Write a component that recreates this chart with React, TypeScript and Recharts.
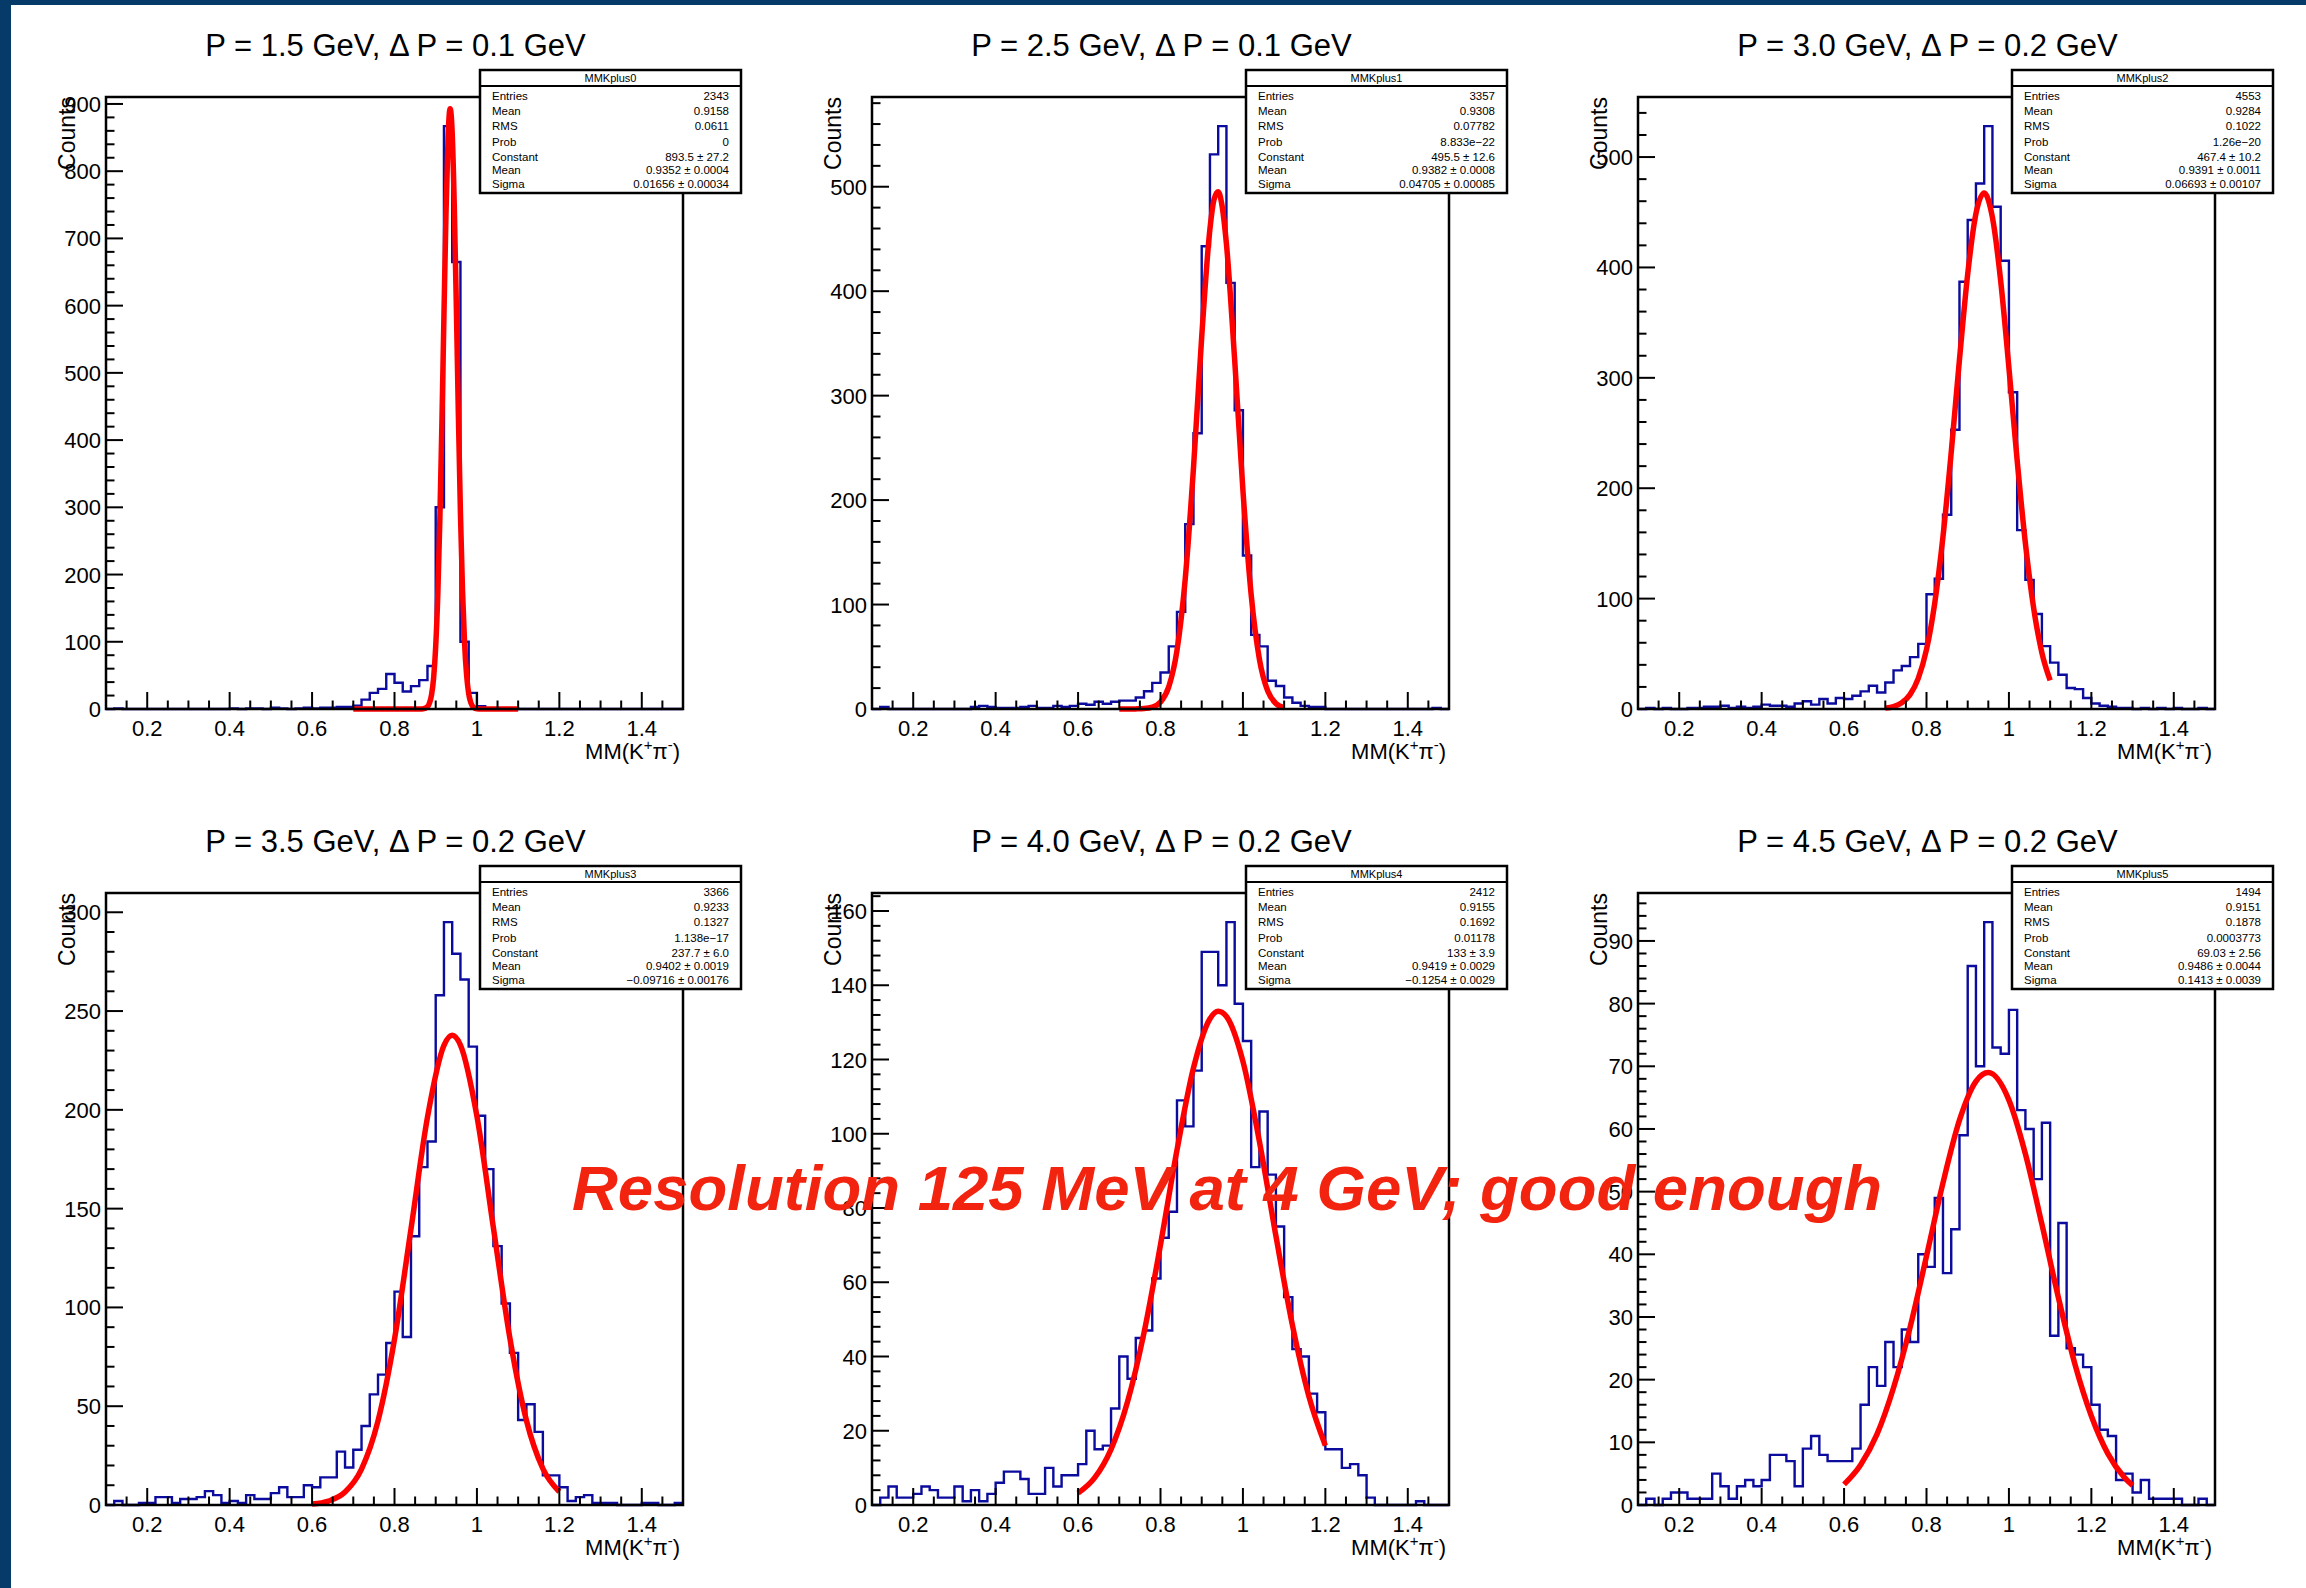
import React from "react";
import { LineChart, Line, XAxis, YAxis } from "recharts";

// ── Data ─────────────────────────────────────────────────────────────────────

// histogram binning: 70 bins of 0.02 from 0.10 to 1.50
const binStart = 0.1;
const binWidth = 0.02;

const titles = [
  "P = 1.5 GeV, \u0394 P = 0.1 GeV",
  "P = 2.5 GeV, \u0394 P = 0.1 GeV",
  "P = 3.0 GeV, \u0394 P = 0.2 GeV",
  "P = 3.5 GeV, \u0394 P = 0.2 GeV",
  "P = 4.0 GeV, \u0394 P = 0.2 GeV",
  "P = 4.5 GeV, \u0394 P = 0.2 GeV",
];

const histNames = ["MMKplus0", "MMKplus1", "MMKplus2", "MMKplus3", "MMKplus4", "MMKplus5"];

const counts0 = [
  0, 1, 0, 0, 0, 0, 0, 0, 0, 0,
  0, 0, 0, 0, 0, 1, 0, 1, 1, 0,
  2, 1, 0, 1, 2, 1, 2, 2, 3, 3,
  5, 14, 24, 30, 52, 39, 26, 34, 43, 64,
  300, 867, 665, 100, 24, 4, 1, 0, 0, 1,
  0, 0, 0, 0, 0, 0, 0, 0, 0, 0,
  0, 0, 0, 0, 0, 0, 0, 0, 0, 0,
];
const counts1 = [
  0, 2, 0, 0, 0, 0, 0, 0, 0, 0,
  0, 0, 2, 3, 2, 1, 1, 1, 2, 3,
  1, 1, 3, 2, 3, 5, 4, 7, 5, 7,
  8, 8, 11, 17, 25, 35, 60, 93, 177, 264,
  443, 531, 558, 408, 286, 147, 71, 60, 27, 22,
  11, 6, 3, 2, 2, 0, 0, 0, 0, 0,
  0, 0, 0, 0, 0, 0, 0, 0, 1, 0,
];
const counts2 = [
  0, 1, 0, 1, 0, 0, 1, 1, 2, 2,
  3, 1, 2, 1, 2, 4, 3, 3, 2, 5,
  7, 4, 9, 5, 10, 9, 12, 16, 21, 15,
  24, 35, 39, 47, 59, 104, 118, 176, 253, 387,
  443, 476, 528, 455, 406, 287, 162, 117, 86, 57,
  42, 31, 19, 18, 10, 5, 3, 2, 1, 1,
  0, 1, 0, 1, 0, 1, 0, 0, 1, 0,
];
const counts3 = [
  0, 2, 0, 0, 1, 1, 4, 4, 1, 3,
  3, 4, 7, 5, 1, 2, 1, 5, 3, 3,
  6, 9, 4, 4, 10, 9, 14, 14, 27, 19,
  28, 40, 56, 66, 82, 108, 85, 136, 171, 184,
  258, 295, 279, 266, 232, 197, 170, 131, 102, 77,
  43, 51, 37, 15, 15, 9, 2, 4, 5, 1,
  1, 1, 0, 0, 0, 1, 1, 0, 0, 1,
];
const counts4 = [
  0, 2, 5, 2, 2, 3, 5, 4, 2, 2,
  5, 1, 4, 1, 3, 6, 9, 9, 7, 3,
  3, 10, 5, 8, 8, 11, 20, 15, 16, 26,
  40, 34, 45, 47, 61, 72, 79, 109, 102, 117,
  149, 149, 140, 157, 135, 125, 91, 106, 89, 75,
  56, 42, 40, 30, 25, 15, 15, 10, 11, 8,
  2, 0, 0, 0, 0, 0, 1, 0, 0, 0,
];
const counts5 = [
  0, 1, 0, 1, 2, 2, 1, 1, 1, 5,
  3, 1, 3, 4, 3, 4, 8, 8, 7, 3,
  9, 11, 8, 7, 7, 7, 9, 16, 22, 19,
  26, 22, 28, 26, 40, 38, 49, 37, 44, 59,
  86, 70, 93, 73, 72, 79, 63, 60, 52, 61,
  27, 45, 25, 24, 22, 16, 12, 11, 4, 5,
  2, 4, 1, 1, 1, 1, 0, 0, 1, 0,
];

// gaussian fit curves
const fit0X = [0.7, 0.8, 0.86, 0.87, 0.88, 0.885, 0.89, 0.895, 0.9, 0.905, 0.91, 0.915, 0.92, 0.925, 0.93, 0.935, 0.94, 0.945, 0.95, 0.955, 0.96, 0.965, 0.97, 0.975, 0.98, 0.985, 0.99, 1.0, 1.01, 1.1];
const fit0Y = [0, 0, 0.1, 0.4, 3.4, 9, 21.5, 46.9, 93.4, 169, 281, 425, 586, 739, 851, 893, 857, 750, 600, 437, 291, 177, 98, 50, 23, 9.7, 3.7, 0.4, 0, 0];
const fit1X = [0.7, 0.72, 0.74, 0.76, 0.78, 0.8, 0.82, 0.84, 0.86, 0.88, 0.9, 0.92, 0.93, 0.94, 0.95, 0.96, 0.98, 1.0, 1.02, 1.04, 1.06, 1.08, 1.1];
const fit1Y = [0, 0, 0.1, 0.4, 1.7, 6.6, 21.1, 56.1, 124.5, 230.6, 356.4, 459.8, 488, 495.1, 480.1, 445.1, 334, 209.3, 109.4, 47.7, 17.4, 5.3, 1.3];
const fit2X = [0.7, 0.72, 0.74, 0.76, 0.78, 0.8, 0.82, 0.84, 0.86, 0.88, 0.9, 0.92, 0.94, 0.96, 0.98, 1.0, 1.02, 1.04, 1.06, 1.08, 1.1];
const fit2Y = [0.8, 2.2, 5.6, 13, 27.7, 53.9, 96, 156.2, 232.5, 316.5, 394.1, 448.8, 467.4, 445.2, 387.8, 309, 225.1, 150, 91.4, 50.9, 26];
const fit3X = [0.6, 0.64, 0.68, 0.72, 0.76, 0.8, 0.84, 0.88, 0.92, 0.94, 0.96, 1.0, 1.04, 1.08, 1.12, 1.16, 1.2];
const fit3Y = [0.5, 2, 6.6, 18.2, 42.6, 83.9, 139.7, 196.2, 232.6, 237.7, 232.8, 196.7, 140.3, 84.4, 42.9, 18.4, 6.7];
const fit4X = [0.6, 0.64, 0.68, 0.72, 0.76, 0.8, 0.84, 0.88, 0.92, 0.94, 0.96, 1.0, 1.04, 1.08, 1.12, 1.16, 1.2];
const fit4Y = [3.2, 7.3, 15, 27.8, 46.4, 70.1, 95.6, 117.7, 131, 133, 131.6, 119.5, 97.9, 72.5, 48.5, 29.3, 16];
const fit5X = [0.6, 0.64, 0.68, 0.72, 0.76, 0.8, 0.84, 0.88, 0.92, 0.95, 1.0, 1.04, 1.08, 1.12, 1.16, 1.2, 1.24, 1.28, 1.3];
const fit5Y = [3.3, 6.4, 11.3, 18.7, 28.3, 39.7, 51.4, 61.4, 67.6, 69, 64.6, 56, 44.8, 33.1, 22.5, 14.2, 8.2, 4.4, 3.1];

const statLabels = ["Entries", "Mean", "RMS", "Prob", "Constant", "Mean", "Sigma"];
const stats0 = ["2343", "0.9158", "0.0611", "0", "893.5 \u00b1 27.2", "0.9352 \u00b1 0.0004", "0.01656 \u00b1 0.00034"];
const stats1 = ["3357", "0.9308", "0.07782", "8.833e\u221222", "495.5 \u00b1 12.6", "0.9382 \u00b1 0.0008", "0.04705 \u00b1 0.00085"];
const stats2 = ["4553", "0.9284", "0.1022", "1.26e\u221220", "467.4 \u00b1 10.2", "0.9391 \u00b1 0.0011", "0.06693 \u00b1 0.00107"];
const stats3 = ["3366", "0.9233", "0.1327", "1.138e\u221217", "237.7 \u00b1 6.0", "0.9402 \u00b1 0.0019", "\u22120.09716 \u00b1 0.00176"];
const stats4 = ["2412", "0.9155", "0.1692", "0.01178", "133 \u00b1 3.9", "0.9419 \u00b1 0.0029", "\u22120.1254 \u00b1 0.0029"];
const stats5 = ["1494", "0.9151", "0.1878", "0.0003773", "69.03 \u00b1 2.56", "0.9486 \u00b1 0.0044", "0.1413 \u00b1 0.0039"];

// y axis divisions per pad
const yMajorStep = [100, 100, 100, 50, 20, 10];
const yMinorStep = [20, 20, 20, 10, 4, 2];

const note = "Resolution 125 MeV at 4 GeV; good enough";

// ── Layout ───────────────────────────────────────────────────────────────────

const FONT = "'Liberation Sans', Arial, Helvetica, sans-serif";
const COLS = [106, 872, 1638];
const ROWS = [97, 893];
const FW = 577;
const FH = 612;
const ML = 70, MT = 12, MR = 12, MB = 46;
const HIST_BLUE = "#0b0b9e";
const FIT_RED = "#ff0000";
const NAVY = "#063a69";

const allCounts = [counts0, counts1, counts2, counts3, counts4, counts5];
const allFitX = [fit0X, fit1X, fit2X, fit3X, fit4X, fit5X];
const allFitY = [fit0Y, fit1Y, fit2Y, fit3Y, fit4Y, fit5Y];
const allStats = [stats0, stats1, stats2, stats3, stats4, stats5];

// tick marks every 0.05, labels every 0.2
const xTicks = Array.from({ length: 27 }, (_, k) => +(0.15 + 0.05 * k).toFixed(2));

function histPoints(c: number[]) {
  const pts = c.map((v, i) => ({ x: +(binStart + i * binWidth).toFixed(2), y: v }));
  pts.push({ x: +(binStart + c.length * binWidth).toFixed(2), y: c[c.length - 1] });
  return pts;
}

function XTick(props: any) {
  const { x, payload, bottom } = props;
  const v = payload.value as number;
  const major = Math.abs(v * 5 - Math.round(v * 5)) < 1e-6;
  return (
    <g>
      <line x1={x} x2={x} y1={bottom} y2={bottom - (major ? 17 : 8.5)} stroke="#000" strokeWidth={2} />
      {major && (
        <text x={x} y={bottom + 27} textAnchor="middle" fontSize={22} fontFamily={FONT} fill="#000">
          {String(Math.round(v * 10) / 10)}
        </text>
      )}
    </g>
  );
}

function YTick(props: any) {
  const { y, payload, left, step } = props;
  const v = payload.value as number;
  const major = Math.abs(v / step - Math.round(v / step)) < 1e-6;
  return (
    <g>
      <line x1={left} x2={left + (major ? 17 : 8.5)} y1={y} y2={y} stroke="#000" strokeWidth={2} />
      {major && (
        <text x={left - 5} y={y + 8} textAnchor="end" fontSize={22} fontFamily={FONT} fill="#000">
          {v}
        </text>
      )}
    </g>
  );
}

function Pad({ idx }: { idx: number }) {
  const fx = COLS[idx % 3];
  const fy = ROWS[Math.floor(idx / 3)];
  const counts = allCounts[idx];
  const ymax = Math.max(...counts) * 1.05;
  const minor = yMinorStep[idx];
  const yTicks = Array.from({ length: Math.floor(ymax / minor) + 1 }, (_, k) => k * minor);
  const hist = histPoints(counts);
  const fit = allFitX[idx].map((x, i) => ({ x, y: allFitY[idx][i] }));

  return (
    <div style={{ position: "absolute", left: fx - ML, top: fy - MT }}>
      <LineChart width={FW + ML + MR} height={FH + MT + MB} margin={{ top: MT, right: MR, left: 0, bottom: 0 }}>
        <XAxis
          type="number"
          dataKey="x"
          domain={[0.1, 1.5]}
          ticks={xTicks}
          interval={0}
          height={MB}
          axisLine={false}
          tickLine={false}
          tick={(p: any) => <XTick {...p} bottom={MT + FH} />}
        />
        <YAxis
          type="number"
          domain={[0, ymax]}
          ticks={yTicks}
          interval={0}
          width={ML}
          axisLine={false}
          tickLine={false}
          tick={(p: any) => <YTick {...p} left={ML} step={yMajorStep[idx]} />}
        />
        <Line data={hist} dataKey="y" type="stepAfter" stroke={HIST_BLUE} strokeWidth={2.4} dot={false} isAnimationActive={false} />
        <Line data={fit} dataKey="y" type="monotone" stroke={FIT_RED} strokeWidth={5.5} dot={false} isAnimationActive={false} />
      </LineChart>
    </div>
  );
}

function Decorations() {
  const rowOffsets = [25.5, 40.5, 55.5, 71.5, 86.5, 99.5, 114];
  return (
    <svg width={2306} height={1588} style={{ position: "absolute", left: 0, top: 0, pointerEvents: "none" }} fontFamily={FONT}>
      <rect x={0} y={0} width={11} height={1588} fill={NAVY} />
      <rect x={0} y={0} width={2306} height={5} fill={NAVY} />
      {titles.map((t, idx) => {
        const fx = COLS[idx % 3];
        const fy = ROWS[Math.floor(idx / 3)];
        const bx = fx + FW - 203;
        const by = fy - 27;
        const bw = 261;
        const bh = 123;
        const cx = fx - 31;
        return (
          <g key={idx}>
            <rect x={fx} y={fy} width={FW} height={FH} fill="none" stroke="#000" strokeWidth={2.5} />
            <text x={fx + FW / 2 + 1} y={fy - 41} textAnchor="middle" fontSize={31} fill="#000">{t}</text>
            <text x={cx} y={fy} textAnchor="end" fontSize={23} fill="#000" transform={`rotate(-90 ${cx} ${fy})`}>Counts</text>
            <text x={fx + FW - 3} y={fy + FH + 50} textAnchor="end" fontSize={22} fill="#000">
              MM(K<tspan dy={-9} fontSize={15}>+</tspan><tspan dy={9}>{"\u03c0"}</tspan><tspan dy={-9} fontSize={15}>-</tspan><tspan dy={9}>)</tspan>
            </text>
            <rect x={bx} y={by} width={bw} height={bh} fill="#fff" stroke="#000" strokeWidth={2.5} />
            <line x1={bx} x2={bx + bw} y1={by + 16} y2={by + 16} stroke="#000" strokeWidth={2} />
            <text x={bx + bw / 2} y={by + 12} textAnchor="middle" fontSize={11} fill="#000">{histNames[idx]}</text>
            {statLabels.map((l, r) => (
              <g key={r}>
                <text x={bx + 12} y={by + rowOffsets[r] + 4} fontSize={11.5} fill="#000">{l}</text>
                <text x={bx + bw - 12} y={by + rowOffsets[r] + 4} textAnchor="end" fontSize={11.5} fill="#000">{allStats[idx][r]}</text>
              </g>
            ))}
          </g>
        );
      })}
      <text x={572} y={1210} fontSize={63.5} fontWeight="bold" fontStyle="italic" fill="#f2240f">{note}</text>
    </svg>
  );
}

export default function App() {
  return (
    <div style={{ position: "absolute", left: 0, top: 0, width: 2306, height: 1588, background: "#fff", overflow: "hidden" }}>
      {[0, 1, 2, 3, 4, 5].map((i) => (
        <Pad key={i} idx={i} />
      ))}
      <Decorations />
    </div>
  );
}
